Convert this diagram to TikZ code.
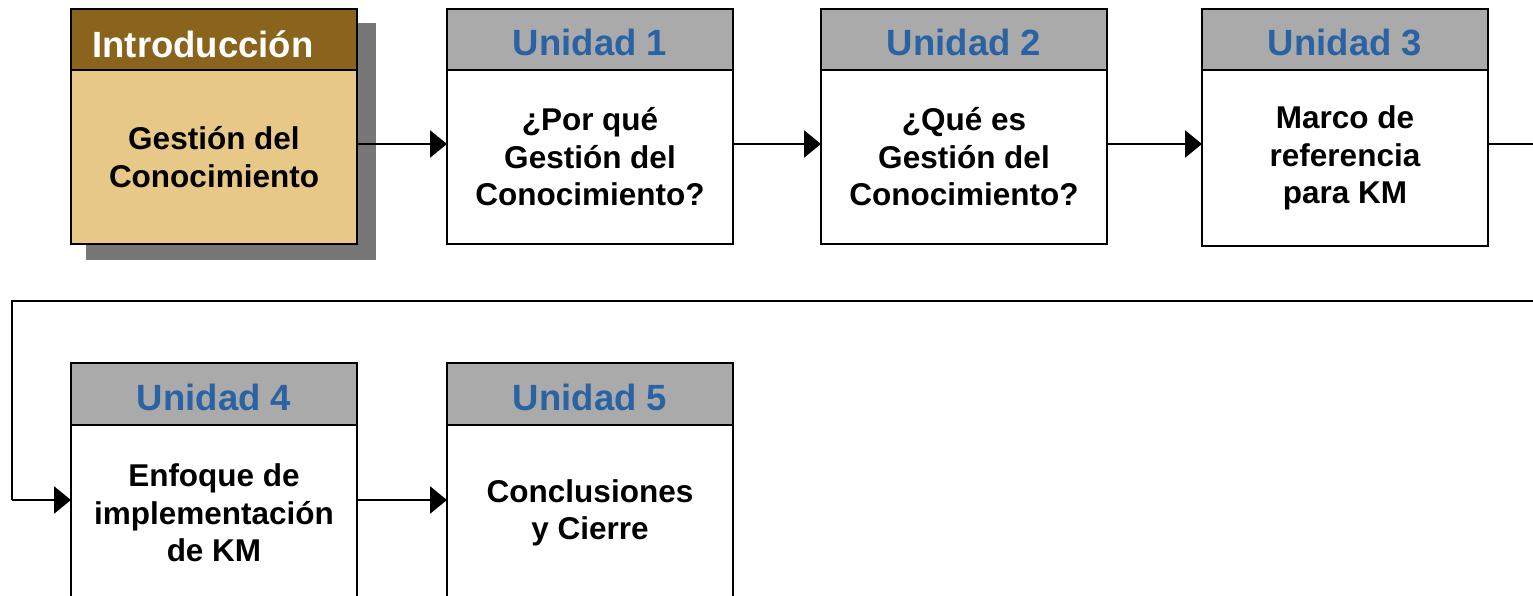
\documentclass[tikz,border=0pt]{standalone}
\usepackage{fontspec}
\setmainfont{Liberation Sans}
\usetikzlibrary{arrows.meta}
\definecolor{hdrgray}{HTML}{AAAAAA}
\definecolor{hdrbrown}{HTML}{8A631C}
\definecolor{bodytan}{HTML}{E8C887}
\definecolor{shadowgray}{HTML}{777777}
\definecolor{unitblue}{HTML}{2B62A4}
\begin{document}
\begin{tikzpicture}[x=1pt,y=-1pt,
  hdr/.style={draw=black,line width=2.5pt,fill=hdrgray,minimum width=286pt,minimum height=61pt,inner sep=0pt,outer sep=0pt,anchor=north west,
    text height=33pt,font=\fontsize{36.5}{40}\selectfont\bfseries,text=unitblue},
  bodybox/.style={draw=black,line width=2.5pt,fill=white,minimum width=286pt,minimum height=174pt,inner sep=0pt,outer sep=0pt,anchor=north west,
    align=center,font=\fontsize{31.5}{37.5}\selectfont\bfseries,text=black},
  link/.style={line width=2.4pt,-{Triangle[length=17pt,width=27pt]}},
  plain/.style={line width=2.4pt}]
\useasboundingbox (0,0) rectangle (1533,596);
% Intro shadow
\fill[shadowgray] (86,23) rectangle (376,260);
% Intro
\node[bodybox,fill=bodytan] (b0) at (71,70) {Gestión del\\Conocimiento};
\node[hdr,fill=hdrbrown,text=white] (h0) at (71,9) {};
\node[text=white,font=\fontsize{36.5}{40}\selectfont\bfseries] (t0) at (203,44) {Introducción};
% Units row 1
\node[bodybox] (b1) at (447,70) {¿Por qué\\Gestión del\\Conocimiento?};
\node[hdr] (h1) at (447,9) {Unidad 1};
\node[bodybox] (b2) at (821,70) {¿Qué es\\Gestión del\\Conocimiento?};
\node[hdr] (h2) at (821,9) {Unidad 2};
\node[bodybox,minimum height=176pt] (b3) at (1202,70) {Marco de\\referencia\\para KM};
\node[hdr] (h3) at (1202,9) {Unidad 3};
% Units row 2
\node[bodybox,minimum height=176pt] (b4) at (71,425) {Enfoque de\\implementación\\de KM};
\node[hdr,minimum height=62pt] (h4) at (71,363) {Unidad 4};
\node[bodybox,minimum height=176pt] (b5) at (447,425) {Conclusiones\\y Cierre};
\node[hdr,minimum height=62pt] (h5) at (447,363) {Unidad 5};
% connectors
\coordinate (r1) at (1533,144);
\coordinate (r2) at (1533,301);
\coordinate (l1) at (12,301);
\coordinate (l2) at (12,500);
\draw[link] (b0.east |- 0,144) -- (b1.west |- 0,144);
\draw[link] (b1.east |- 0,144) -- (b2.west |- 0,144);
\draw[link] (b2.east |- 0,144) -- (b3.west |- 0,144);
\draw[plain] (b3.east |- 0,144) -- (r1);
\draw[plain] (r2) -- (l1) -- (l2);
\draw[link] (l2) -- (b4.west |- 0,500);
\draw[link] (b4.east |- 0,500) -- (b5.west |- 0,500);
\end{tikzpicture}
\end{document}
